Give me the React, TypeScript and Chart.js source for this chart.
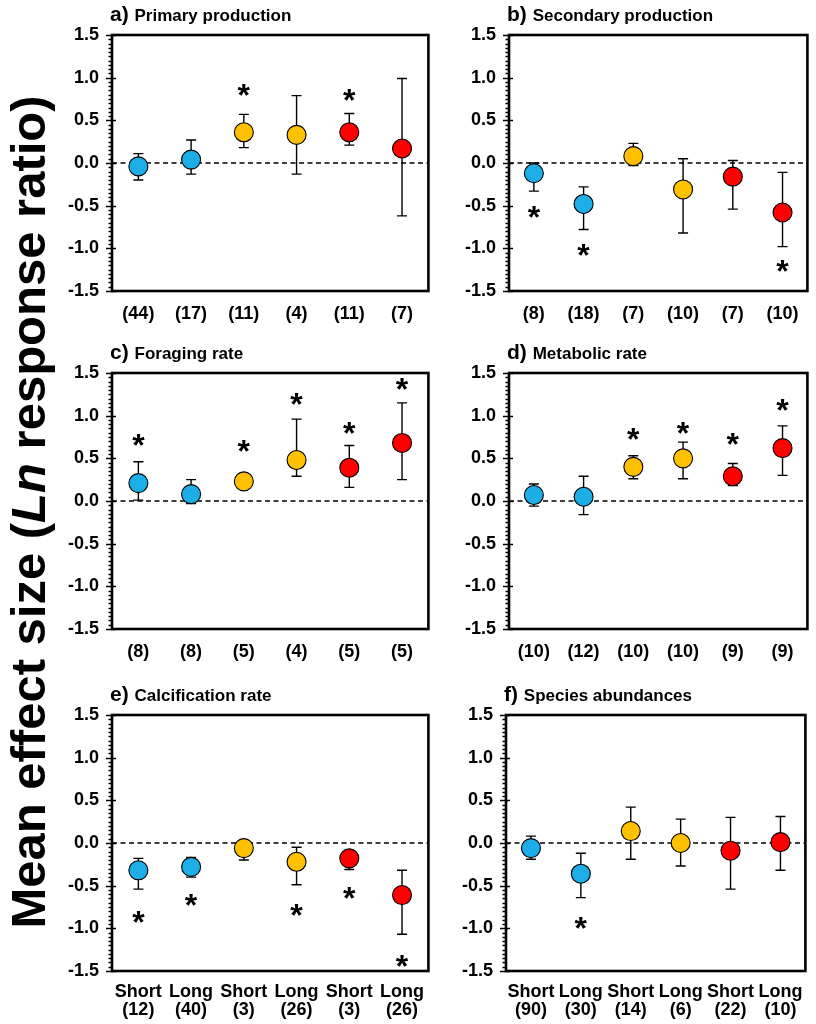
import React, { useEffect, useRef } from "react";
import { Chart, registerables } from "chart.js";

Chart.register(...registerables);

// ---------- data ----------
const pointColors = ["#1DAEE8", "#1DAEE8", "#FFC000", "#FFC000", "#FF0000", "#FF0000"];
const yTickValues = [-1.5, -1.0, -0.5, 0, 0.5, 1.0, 1.5];

const aLabels = ["(44)", "(17)", "(11)", "(4)", "(11)", "(7)"];
const aMeans = [-0.04, 0.04, 0.36, 0.33, 0.36, 0.17];
const aLow = [-0.2, -0.13, 0.18, -0.13, 0.21, -0.62];
const aHigh = [0.11, 0.27, 0.57, 0.79, 0.58, 0.99];
const aStars = [null, null, 0.86, null, 0.8, null];

const bLabels = ["(8)", "(18)", "(7)", "(10)", "(7)", "(10)"];
const bMeans = [-0.12, -0.48, 0.08, -0.31, -0.16, -0.58];
const bLow = [-0.33, -0.78, -0.03, -0.82, -0.54, -0.98];
const bHigh = [0.0, -0.28, 0.23, 0.05, 0.03, -0.11];
const bStars = [-0.57, -1.02, null, null, null, -1.21];

const cLabels = ["(8)", "(8)", "(5)", "(4)", "(5)", "(5)"];
const cMeans = [0.21, 0.08, 0.23, 0.48, 0.39, 0.68];
const cLow = [0.01, -0.03, 0.16, 0.29, 0.16, 0.25];
const cHigh = [0.46, 0.25, 0.28, 0.96, 0.65, 1.15];
const cStars = [0.71, null, 0.65, 1.19, 0.86, 1.37];

const dLabels = ["(10)", "(12)", "(10)", "(10)", "(9)", "(9)"];
const dMeans = [0.07, 0.05, 0.4, 0.5, 0.29, 0.62];
const dLow = [-0.06, -0.16, 0.26, 0.26, 0.18, 0.3];
const dHigh = [0.2, 0.29, 0.53, 0.69, 0.44, 0.88];
const dStars = [null, null, 0.79, 0.86, 0.73, 1.12];

const eLabels = [["Short", "(12)"], ["Long", "(40)"], ["Short", "(3)"], ["Long", "(26)"], ["Short", "(3)"], ["Long", "(26)"]];
const eMeans = [-0.32, -0.28, -0.06, -0.22, -0.18, -0.61];
const eLow = [-0.54, -0.4, -0.2, -0.49, -0.31, -1.07];
const eHigh = [-0.18, -0.17, 0.02, -0.05, -0.1, -0.32];
const eStars = [-0.87, -0.67, null, -0.78, -0.59, -1.38];

const fLabels = [["Short", "(90)"], ["Long", "(30)"], ["Short", "(14)"], ["Long", "(6)"], ["Short", "(22)"], ["Long", "(10)"]];
const fMeans = [-0.06, -0.36, 0.14, 0.0, -0.09, 0.01];
const fLow = [-0.19, -0.64, -0.19, -0.27, -0.54, -0.32];
const fHigh = [0.08, -0.12, 0.42, 0.28, 0.3, 0.31];
const fStars = [null, -0.94, null, null, null, null];

const yAxisTitleBefore = "Mean effect size (";
const yAxisTitleItalic = "Ln";
const yAxisTitleAfter = " response ratio)";

// ---------- layout (positions only) ----------
const PAD_L = 70;
const PAD_T = 35;
const PAD_R = 6;
const PAD_B = 52;

const FONT = "'Liberation Sans', Arial, Helvetica, sans-serif";

type PanelSpec = {
  letter: string;
  title: string;
  labels: any[];
  means: number[];
  low: number[];
  high: number[];
  stars: (number | null)[];
  rect: { left: number; top: number; right: number; bottom: number };
  twoLine: boolean;
};

const panels: PanelSpec[] = [
  { letter: "a)", title: "Primary production", labels: aLabels, means: aMeans, low: aLow, high: aHigh, stars: aStars, rect: { left: 112, top: 35, right: 433, bottom: 291 }, twoLine: false },
  { letter: "b)", title: "Secondary production", labels: bLabels, means: bMeans, low: bLow, high: bHigh, stars: bStars, rect: { left: 509, top: 35, right: 812, bottom: 291 }, twoLine: false },
  { letter: "c)", title: "Foraging rate", labels: cLabels, means: cMeans, low: cLow, high: cHigh, stars: cStars, rect: { left: 112, top: 373, right: 433, bottom: 629 }, twoLine: false },
  { letter: "d)", title: "Metabolic rate", labels: dLabels, means: dMeans, low: dLow, high: dHigh, stars: dStars, rect: { left: 509, top: 373, right: 812, bottom: 629 }, twoLine: false },
  { letter: "e)", title: "Calcification rate", labels: eLabels, means: eMeans, low: eLow, high: eHigh, stars: eStars, rect: { left: 112, top: 715, right: 433, bottom: 971 }, twoLine: true },
  { letter: "f)", title: "Species abundances", labels: fLabels, means: fMeans, low: fLow, high: fHigh, stars: fStars, rect: { left: 506, top: 715, right: 810, bottom: 971 }, twoLine: true },
];

function Panel({ spec }: { spec: PanelSpec }) {
  const ref = useRef<HTMLCanvasElement | null>(null);
  const w = spec.rect.right - spec.rect.left + PAD_L + PAD_R;
  const h = spec.rect.bottom - spec.rect.top + PAD_T + PAD_B;

  useEffect(() => {
    const canvas = ref.current;
    if (!canvas) return;

    const decor = {
      id: "decor",
      beforeDatasetsDraw(chart: any) {
        const { ctx, chartArea } = chart;
        const xs = chart.scales.x;
        const ys = chart.scales.y;
        ctx.save();
        // zero line
        const y0 = ys.getPixelForValue(0);
        ctx.strokeStyle = "#000";
        ctx.lineWidth = 1.3;
        ctx.setLineDash([5, 3.5]);
        ctx.beginPath();
        ctx.moveTo(chartArea.left, y0);
        ctx.lineTo(chartArea.right, y0);
        ctx.stroke();
        ctx.setLineDash([]);
        // error bars
        ctx.lineWidth = 1.4;
        spec.means.forEach((_, i) => {
          const x = xs.getPixelForValue(i);
          const yl = ys.getPixelForValue(spec.low[i]);
          const yh = ys.getPixelForValue(spec.high[i]);
          ctx.beginPath();
          ctx.moveTo(x, yl);
          ctx.lineTo(x, yh);
          ctx.moveTo(x - 5, yl);
          ctx.lineTo(x + 5, yl);
          ctx.moveTo(x - 5, yh);
          ctx.lineTo(x + 5, yh);
          ctx.stroke();
        });
        ctx.restore();
      },
      afterDatasetsDraw(chart: any) {
        const { ctx, chartArea } = chart;
        const xs = chart.scales.x;
        const ys = chart.scales.y;
        ctx.save();
        // frame
        ctx.strokeStyle = "#000";
        ctx.lineWidth = 2.6;
        ctx.strokeRect(chartArea.left, chartArea.top, chartArea.right - chartArea.left, chartArea.bottom - chartArea.top);
        // ticks (major every 0.5, minor every 0.05)
        ctx.lineWidth = 1.3;
        ctx.beginPath();
        for (let k = -30; k <= 30; k++) {
          const v = k * 0.05;
          const y = Math.round(ys.getPixelForValue(v)) + 0.5;
          if (k % 10 === 0) {
            ctx.moveTo(chartArea.left - 6, y);
            ctx.lineTo(chartArea.left + 4, y);
          } else {
            ctx.moveTo(chartArea.left - 3.5, y);
            ctx.lineTo(chartArea.left + 1, y);
          }
        }
        ctx.stroke();
        // stars
        ctx.fillStyle = "#000";
        ctx.font = `bold 32px ${FONT}`;
        ctx.textAlign = "center";
        ctx.textBaseline = "alphabetic";
        const m = ctx.measureText("*");
        const asc = m.actualBoundingBoxAscent;
        const desc = m.actualBoundingBoxDescent;
        spec.stars.forEach((s, i) => {
          if (s === null) return;
          const x = xs.getPixelForValue(i);
          const y = ys.getPixelForValue(s);
          ctx.fillText("*", x, y + (asc - desc) / 2);
        });
        // title
        ctx.textAlign = "left";
        ctx.textBaseline = "middle";
        const ty = chartArea.top - 20;
        ctx.font = `bold 21px ${FONT}`;
        ctx.fillText(spec.letter, chartArea.left - 2, ty);
        const lw = ctx.measureText(spec.letter + " ").width;
        ctx.font = `bold 17px ${FONT}`;
        ctx.fillText(spec.title, chartArea.left - 2 + lw, ty + 1);
        ctx.restore();
      },
    };

    const chart = new Chart(canvas, {
      type: "line",
      data: {
        labels: spec.labels,
        datasets: [
          {
            data: spec.means,
            showLine: false,
            pointRadius: 9.5,
            pointHoverRadius: 9.5,
            pointBackgroundColor: pointColors,
            pointBorderColor: "#000",
            pointBorderWidth: 1.1,
            clip: false as any,
          },
        ],
      },
      options: {
        responsive: false,
        animation: false,
        events: [],
        layout: { padding: { top: PAD_T, right: PAD_R, left: 0, bottom: 0 } },
        plugins: { legend: { display: false }, tooltip: { enabled: false }, title: { display: false } },
        scales: {
          x: {
            type: "category",
            offset: true,
            grid: { display: false, drawTicks: false },
            border: { display: false },
            ticks: {
              color: "#000",
              font: { family: FONT, size: 18, weight: "bold", lineHeight: "18px" as any },
              padding: spec.twoLine ? 12 : 14,
              maxRotation: 0,
              autoSkip: false,
            },
            afterFit(scale: any) {
              scale.height = PAD_B;
            },
          },
          y: {
            type: "linear",
            min: -1.5,
            max: 1.5,
            grid: { display: false, drawTicks: false },
            border: { display: false },
            afterBuildTicks(scale: any) {
              scale.ticks = yTickValues.map((v) => ({ value: v }));
            },
            ticks: {
              color: "#000",
              font: { family: FONT, size: 18, weight: "bold" },
              padding: 13,
              callback: (v: any) => Number(v).toFixed(1),
            },
            afterFit(scale: any) {
              scale.width = PAD_L;
            },
          },
        },
      },
      plugins: [decor],
    });
    return () => chart.destroy();
  }, [spec]);

  return (
    <canvas
      ref={ref}
      width={w}
      height={h}
      style={{
        position: "absolute",
        left: spec.rect.left - PAD_L,
        top: spec.rect.top - PAD_T,
        width: w,
        height: h,
      }}
    />
  );
}

export default function App() {
  return (
    <div style={{ position: "absolute", left: 0, top: 0, width: 816, height: 1024, background: "#fff", overflow: "hidden" }}>
      <div
        style={{
          position: "absolute",
          left: 28,
          top: 512,
          transform: "translate(-50%, -50%) rotate(-90deg)",
          whiteSpace: "nowrap",
          fontFamily: FONT,
          fontWeight: "bold",
          fontSize: 49,
          lineHeight: 1,
          color: "#000",
        }}
      >
        {yAxisTitleBefore}
        <i>{yAxisTitleItalic}</i>
        {yAxisTitleAfter}
      </div>
      {panels.map((p) => (
        <Panel key={p.letter} spec={p} />
      ))}
    </div>
  );
}
